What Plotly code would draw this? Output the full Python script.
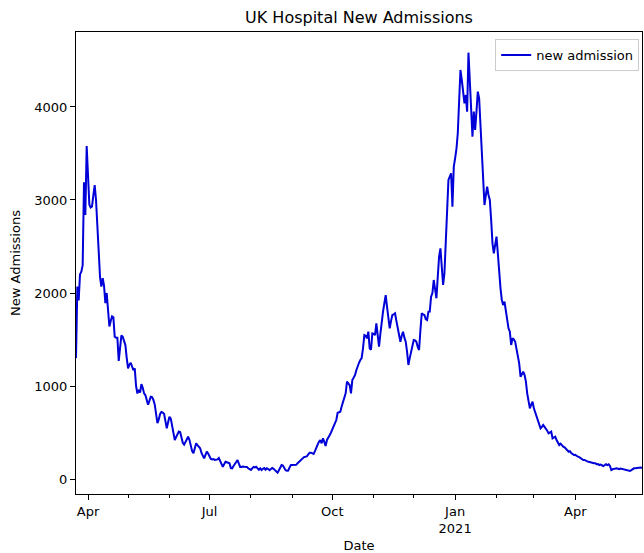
import pandas as pd
import plotly.graph_objects as go

start_date = "2020-03-23"
new_admission = [
    1300, 2070, 1920, 2200, 2230, 2300, 3190, 2840, 3580, 3200,
    2950, 2920, 2930, 3050, 3160, 3000, 2780, 2450, 2170, 2070,
    2160, 2080, 1890, 2000, 1820, 1640, 1700, 1750, 1740, 1530,
    1520, 1520, 1270, 1420, 1545, 1530, 1490, 1440, 1300, 1190,
    1230, 1250, 1210, 1170, 1190, 1000, 920, 960, 930, 1020,
    980, 920, 900, 860, 800, 840, 885, 880, 850, 800,
    700, 600, 640, 700, 720, 715, 700, 610, 545, 610,
    670, 650, 580, 480, 420, 450, 490, 510, 505, 440,
    390, 370, 400, 440, 455, 420, 350, 300, 278, 330,
    384, 365, 345, 330, 280, 240, 222, 260, 294, 275,
    240, 215, 210, 215, 205, 204, 211, 226, 190, 150,
    130, 160, 186, 180, 175, 170, 118, 115, 140, 165,
    190, 204, 165, 130, 129, 135, 132, 132, 130, 115,
    110, 97, 115, 130, 125, 132, 115, 100, 115, 97,
    110, 118, 100, 115, 108, 95, 108, 118, 110, 95,
    80, 68, 95, 125, 150, 145, 115, 95, 90, 92,
    125, 150, 150, 148, 150, 152, 170, 186, 190, 210,
    233, 238, 240, 245, 265, 283, 283, 275, 269, 300,
    348, 370, 400, 419, 384, 437, 400, 355, 420, 455,
    470, 498, 540, 562, 600, 634, 713, 718, 724, 780,
    831, 870, 921, 1046, 1030, 1010, 921, 1064, 1090, 1118,
    1170, 1226, 1250, 1280, 1301, 1405, 1548, 1540, 1513, 1584,
    1405, 1390, 1566, 1560, 1548, 1674, 1550, 1423, 1560, 1710,
    1800, 1890, 1978, 1850, 1728, 1620, 1700, 1763, 1770, 1781,
    1700, 1620, 1550, 1476, 1540, 1584, 1520, 1476, 1369, 1226,
    1300, 1369, 1430, 1495, 1490, 1476, 1420, 1387, 1600, 1781,
    1770, 1763, 1720, 1710, 1799, 1800, 1960, 2000, 2140, 2032,
    1943, 2175, 2390, 2480, 2300, 2086, 2212, 2500, 2800, 3215,
    3250, 3287, 2928, 3358, 3448, 3550, 3717, 4075, 4398, 4290,
    4150, 4039, 4129, 3950, 4584, 4255, 4003, 3681, 3950, 3753,
    3950, 4165, 4093, 3800, 3538, 3126, 2946, 3050, 3143, 3054,
    3000, 2785, 2534, 2427, 2500, 2606, 2427, 2200, 2050, 1925,
    1871, 1906, 1800, 1710, 1620, 1584, 1441, 1513, 1500, 1476,
    1400, 1351, 1244, 1100, 1130, 1154, 1120, 1050, 921, 850,
    760, 800, 831, 760, 720, 688, 640, 600, 545, 560,
    580, 560, 545, 520, 491, 500, 509, 437, 450, 455,
    420, 384, 366, 380, 360, 348, 340, 320, 310, 294,
    300, 280, 265, 258, 260, 245, 240, 235, 225, 215,
    204, 205, 195, 190, 186, 180, 178, 172, 169, 170,
    160, 161, 150, 155, 145, 140, 148, 160, 150, 158,
    140, 97, 105, 110, 112, 115, 110, 105, 112, 108,
    108, 105, 100, 95, 90, 86, 95, 105, 115, 115,
    118, 122, 126, 125, 122,
]
dates = pd.date_range(start_date, periods=len(new_admission), freq="D")

x_tick_vals = ["2020-04-01", "2020-07-01", "2020-10-01", "2021-01-01", "2021-04-01"]
x_tick_text = ["Apr", "Jul", "Oct", "Jan<br>2021", "Apr"]
y_tick_vals = [0, 1000, 2000, 3000, 4000]

fig = go.Figure()
fig.add_trace(go.Scatter(
    x=dates, y=new_admission, mode="lines", name="new admission",
    line=dict(color="#0000d8", width=2),
))

font = "DejaVu Sans"
fig.update_layout(
    width=644, height=553,
    margin=dict(l=76, r=2, t=32, b=59),
    paper_bgcolor="white", plot_bgcolor="white",
    font=dict(family=font, size=13, color="#000000"),
    title=dict(text="UK Hospital New Admissions", x=0.5, xanchor="center",
               xref="paper", y=1 - 17 / 553, yref="container", yanchor="middle",
               font=dict(size=16, family=font)),
    showlegend=True,
    legend=dict(x=0.995, xanchor="right", y=0.985, yanchor="top",
                bordercolor="#cccccc", borderwidth=1,
                bgcolor="rgba(255,255,255,0.8)", font=dict(size=13),
                itemwidth=30),
)
fig.update_xaxes(
    range=[dates[0], dates[-1]], automargin=False,
    tickvals=x_tick_vals, ticktext=x_tick_text,
    ticks="outside", ticklen=5, tickwidth=1, tickcolor="#000",
    minor=dict(ticks="outside", ticklen=3, tickwidth=1, tickcolor="#000",
               dtick="M1", tick0="2020-04-01"),
    showline=True, linecolor="#000", linewidth=1, mirror=True,
    showgrid=False, zeroline=False,
    title=dict(text="Date", standoff=8, font=dict(size=13)),
)
fig.update_yaxes(
    range=[-161, 4806], automargin=False,
    tickvals=y_tick_vals, tickformat="d",
    ticks="outside", ticklen=5, tickwidth=1, tickcolor="#000",
    showline=True, linecolor="#000", linewidth=1, mirror=True,
    showgrid=False, zeroline=False,
    title=dict(text="New Admissions", standoff=10, font=dict(size=13)),
)

fig.write_html("out.html", config={"displayModeBar": False},
               post_script="document.body.style.margin='0';")
